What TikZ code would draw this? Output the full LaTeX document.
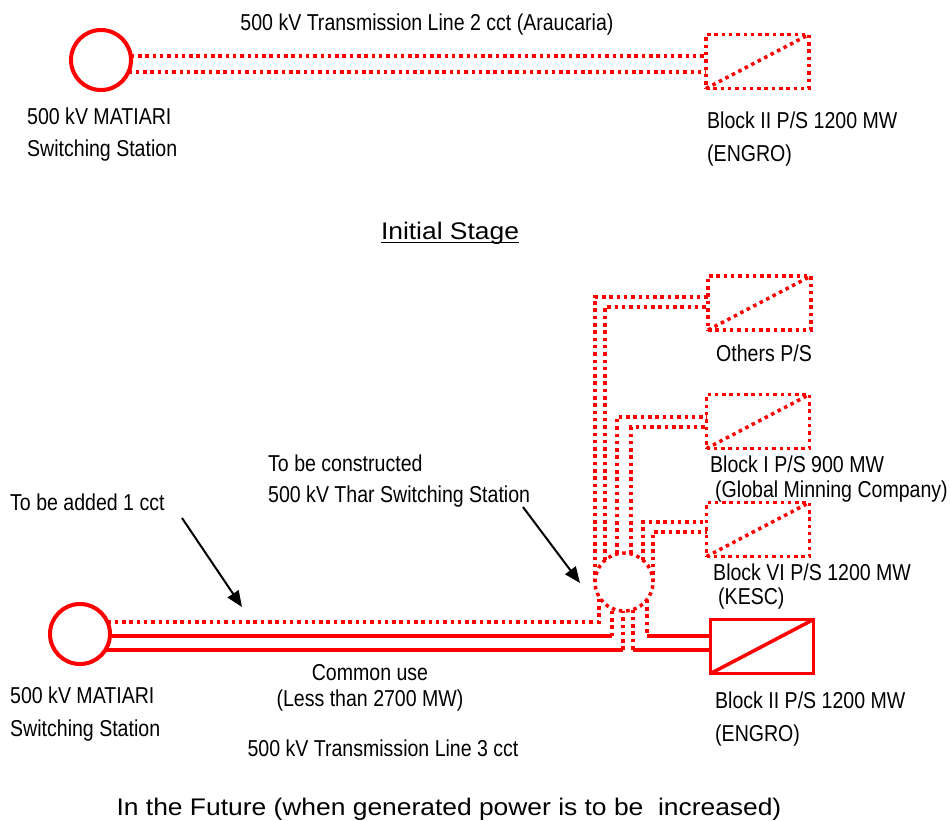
\documentclass[tikz,border=0pt]{standalone}
\usepackage{fontspec}
\setmainfont{Liberation Sans}
\newfontfamily\narrowfont{Liberation Sans}[FakeStretch=0.85]
\newfontfamily\widefont{Liberation Sans}[FakeStretch=1.1]
\usetikzlibrary{arrows.meta,calc}
\begin{document}
\begin{tikzpicture}[x=1pt,y=-1pt,
  lbl/.style={font=\narrowfont\fontsize{23}{28}\selectfont, inner sep=0pt, anchor=base west},
  lblc/.style={lbl, anchor=base},
  ttl/.style={font=\widefont\fontsize{24}{29}\selectfont, inner sep=0pt, anchor=base},
  dotline/.style={draw=red, line width=3.5pt, dash pattern=on 3.5pt off 3.8pt},
  solidline/.style={draw=red, line width=3.5pt},
  station/.style={circle, draw=red, line width=4pt, minimum size=60pt, inner sep=0pt, outer sep=0pt},
  tharstation/.style={circle, dotline, minimum size=58pt, inner sep=0pt, outer sep=0pt},
  psbox/.style={rectangle, dotline, minimum width=103pt, minimum height=54pt, inner sep=0pt, outer sep=0pt},
  psboxsolid/.style={rectangle, solidline, minimum width=103pt, minimum height=54pt, inner sep=0pt, outer sep=0pt},
  ptr/.style={draw=black, line width=2pt, -{Triangle[length=16pt,width=13pt]}}
]
\useasboundingbox (0,0) rectangle (950,820);
\fill[white] (0,0) rectangle (950,820);

% ---------------- Initial stage ----------------
\node[station] (M1) at (101,60) {};
\node[psbox] (B0) at (757.5,61.5) {};
\draw[dotline] (B0.south west) -- (B0.north east);
\draw[dotline] (M1.8) -- (M1.8 -| B0.west);
\draw[dotline] (M1.336) -- (M1.336 -| B0.west);

\node[lblc] (tl2) at (427,30) {500 kV Transmission Line 2 cct (Araucaria)};
\node[lbl] (m1a) at (27,124) {500 kV MATIARI};
\node[lbl] (m1b) at (27,156) {Switching Station};
\node[lbl] (b0a) at (707,128) {Block II P/S 1200 MW};
\node[lbl] (b0b) at (707,161) {(ENGRO)};

\node[ttl] (IS) at (450,239) {Initial Stage};
\draw[line width=1.6pt] ($(IS.base west)+(0,3.5)$) -- ($(IS.base east)+(0,3.5)$);

% ---------------- Future ----------------
\node[station] (M2) at (80,634) {};
\node[tharstation] (T) at (624,582) {};
\node[psbox] (Oth) at (759.5,303) {};
\node[psbox] (B1) at (758,421.5) {};
\node[psbox] (B6) at (758,529.5) {};
\node[psboxsolid] (B2) at (762,646.5) {};
\draw[dotline] (Oth.south west) -- (Oth.north east);
\draw[dotline] (B1.south west) -- (B1.north east);
\draw[dotline] (B6.south west) -- (B6.north east);
\draw[solidline] (B2.south west) -- (B2.north east);

% Thar to plants (dotted, 2 cct each)
\draw[dotline] (T.180) |- ($(Oth.west)+(0,-6)$);
\draw[dotline] (T.131) |- ($(Oth.west)+(0,4)$);
\draw[dotline] (T.104) |- ($(B1.west)+(0,-4.5)$);
\draw[dotline] (T.76) |- ($(B1.west)+(0,5.5)$);
\draw[dotline] (T.49) |- ($(B6.west)+(0,-7.5)$);
\draw[dotline] (T.0) |- ($(B6.west)+(0,2.5)$);

% Matiari to Thar
\draw[dotline] (M2.24) -| (T.210);
\draw[solidline] (M2.356) -- (M2.356 -| T.245) coordinate (j1);
\draw[dotline] (j1) -- (T.245);
\draw[solidline] (M2.328) -- (M2.328 -| T.268) coordinate (j2);
\draw[dotline] (j2) -- (T.268);

% Thar to Block II
\coordinate (b2hi) at ($(B2.west)+(0,-10.5)$);
\coordinate (b2lo) at ($(B2.west)+(0,3.5)$);
\draw[dotline] (T.288) -- (T.288 |- b2lo) coordinate (j3);
\draw[solidline] (j3) -- (b2lo);
\draw[dotline] (T.322) -- (T.322 |- b2hi) coordinate (j4);
\draw[solidline] (j4) -- (b2hi);

% pointers
\coordinate (a1s) at (182,518);
\coordinate (a1e) at (242,607);
\draw[ptr] (a1s) -- (a1e);
\coordinate (a2s) at (523,507);
\coordinate (a2e) at (580,583);
\draw[ptr] (a2s) -- (a2e);

% labels
\node[lblc] (othl) at (764,361) {Others P/S};
\node[lbl] (b1a) at (710,472) {Block I P/S 900 MW};
\node[lbl] (b1b) at (715,497) {(Global Minning Company)};
\node[lbl] (b6a) at (713,580) {Block VI P/S 1200 MW};
\node[lbl] (b6b) at (718,604) {(KESC)};
\node[lbl] (b2a) at (715,708) {Block II P/S 1200 MW};
\node[lbl] (b2b) at (715,741) {(ENGRO)};
\node[lbl] (tc1) at (268,471) {To be constructed};
\node[lbl] (tc2) at (268,502) {500 kV Thar Switching Station};
\node[lbl] (tba) at (10,510) {To be added 1 cct};
\node[lblc] (cu1) at (370,680) {Common use};
\node[lblc] (cu2) at (370,706) {(Less than 2700 MW)};
\node[lbl] (m2a) at (10,703) {500 kV MATIARI};
\node[lbl] (m2b) at (10,736) {Switching Station};
\node[lblc] (tl3) at (383,756) {500 kV Transmission Line 3 cct};
\node[ttl] (fut) at (449,815) {In the Future (when generated power is to be~ increased)};
\end{tikzpicture}
\end{document}
